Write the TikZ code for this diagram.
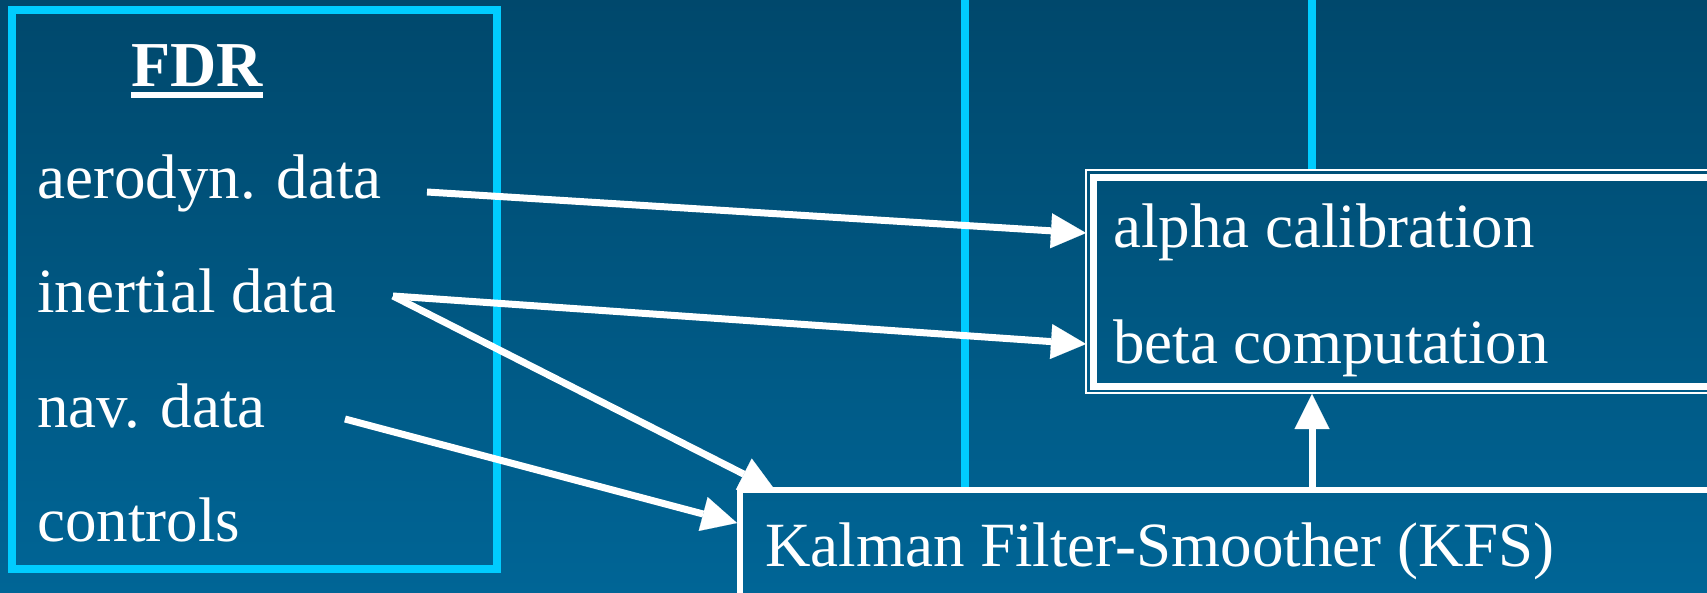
\documentclass[tikz,border=0pt]{standalone}
\usepackage{fontspec}
\setmainfont{Liberation Serif}
\usetikzlibrary{arrows.meta}
\definecolor{bgtop}{RGB}{0,72,108}
\definecolor{bgbot}{RGB}{0,101,150}
\definecolor{cyanline}{RGB}{0,204,255}
\tikzset{
  lbl/.style={text=white, font=\fontsize{63}{70}\selectfont, inner sep=0pt, anchor=base west},
  flow/.style={draw=white, line width=7pt, -{Triangle[length=35pt,width=35pt,line width=0.1pt]}},
  cyanrule/.style={draw=cyanline, line width=8pt},
  kfsframe/.style={draw=white, line width=6pt},
  thinframe/.style={draw=white, line width=2pt},
  thickframe/.style={draw=white, line width=7pt}
}
\begin{document}
\begin{tikzpicture}[x=1pt,y=-1pt]
\useasboundingbox (0,0) rectangle (1707,593);
\shade[top color=bgtop,bottom color=bgbot] (0,0) rectangle (1707,593);

% cyan rules
\coordinate (c1top) at (965,-5);
\coordinate (c1bot) at (965,487);
\coordinate (c2top) at (1312,-5);
\coordinate (c2bot) at (1312,169);
\draw[cyanrule] (c1top) -- (c1bot);
\draw[cyanrule] (c2top) -- (c2bot);

% FDR box
\draw[cyanrule] (11.5,10.5) rectangle (497,569);
\node[lbl, anchor=base, font=\fontsize{64}{70}\selectfont\bfseries] (fdr) at (197,87) {FDR};
\draw[white, line width=6pt] ([yshift=-8pt]fdr.base west) -- ([yshift=-8pt]fdr.base east);
\node[lbl] (aero) at (37,199) {aerodyn. data};
\node[lbl] (inert) at (37,313) {inertial data};
\node[lbl] (nav) at (37,427) {nav. data};
\node[lbl] (ctrl) at (37,541) {controls};

% alpha / beta box
\draw[thinframe] (1086,170) rectangle (1720,393);
\draw[thickframe] (1093.5,178) rectangle (1730,386);
\node[lbl] (alpha) at (1113,248) {alpha calibration};
\node[lbl] (beta) at (1113,363) {beta computation};

% KFS box
\draw[kfsframe] (740,490) rectangle (1730,620);
\node[lbl] (kfs) at (765,566) {Kalman Filter-Smoother (KFS)};

% arrow end points
\coordinate (aeroOut) at (427,192);
\coordinate (inertOut) at (393,296);
\coordinate (navOut) at (345,419);
\coordinate (alphaIn) at (1086,233);
\coordinate (betaIn) at (1086,344);
\coordinate (kfsInTop) at (775,490);
\coordinate (kfsInLeft) at (737,523);
\coordinate (kfsOut) at (1312,490);
\coordinate (abIn) at (1312,394);

\draw[flow] (aeroOut) -- (alphaIn);
\draw[flow] (inertOut) -- (betaIn);
\draw[flow] (inertOut) -- (kfsInTop);
\draw[flow] (navOut) -- (kfsInLeft);
\draw[flow] (kfsOut) -- (abIn);
\end{tikzpicture}
\end{document}
